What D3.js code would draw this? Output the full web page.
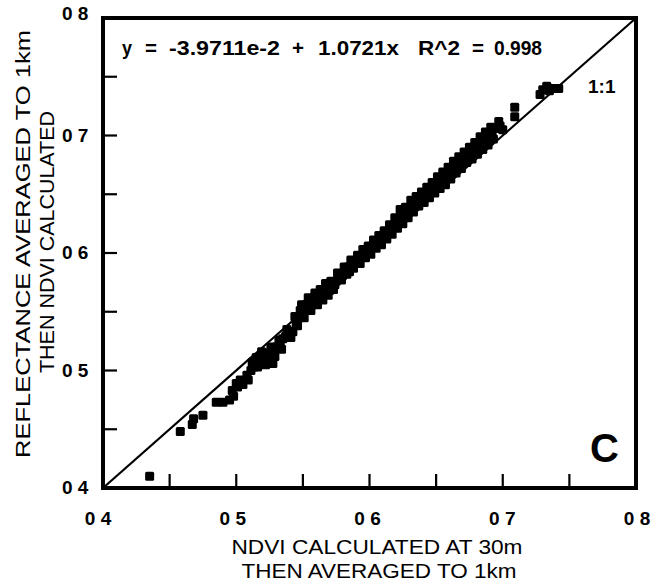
<!DOCTYPE html>
<html><head><meta charset="utf-8">
<script src="https://cdn.jsdelivr.net/npm/d3@7"></script>
<style>body{margin:0;background:#fff}svg{display:block}text{font-family:"Liberation Sans",Arial,sans-serif;fill:#000}</style>
</head><body><svg id="c" width="654" height="584"></svg>
<script>
const xTicks=[0.4,0.5,0.6,0.7,0.8];
const yTicks=[0.4,0.5,0.6,0.7,0.8];
const xTickLabels=["0 4","0 5","0 6","0 7","0 8"];
const yTickLabels=["0 4","0 5","0 6","0 7","0 8"];
const minorTicks=[0.45,0.5,0.55,0.6,0.65,0.7,0.75];
const ndvi30=[0.435,0.458,0.467,0.468,0.475,0.485,0.490,0.495,0.497,0.500,0.503,0.508,0.511,0.513,0.515,0.518,0.520,0.523,0.525,0.5275,0.528,0.530,0.533,0.535,0.537,0.540,0.5425,0.545,0.547,0.548,0.550,0.552,0.553,0.555,0.557,0.558,0.560,0.562,0.564,0.566,0.568,0.570,0.572,0.573,0.575,0.577,0.578,0.580,0.582,0.584,0.585,0.587,0.590,0.592,0.594,0.596,0.598,0.600,0.602,0.604,0.606,0.608,0.610,0.612,0.614,0.616,0.618,0.620,0.622,0.624,0.626,0.628,0.630,0.632,0.634,0.636,0.638,0.640,0.642,0.644,0.646,0.648,0.650,0.652,0.654,0.656,0.658,0.660,0.662,0.664,0.666,0.668,0.670,0.672,0.674,0.676,0.678,0.680,0.682,0.684,0.686,0.688,0.690,0.692,0.695,0.698,0.709,0.709,0.728,0.730,0.733,0.735,0.738,0.742,
0.498,0.501,0.505,0.509,0.512,0.516,0.519,0.522,0.526,0.529,0.532,0.534,0.538,0.541,0.544,0.546,0.549,0.551,0.554,0.556,0.559,0.561,0.563,0.565,0.567,0.569,0.571,0.574,0.576,0.579,0.581,0.583,0.586,0.588,0.591,0.593,0.595,0.597,0.599,0.601,0.603,0.605,0.607,0.609,0.611,0.613,0.615,0.617,0.619,0.621,0.623,0.625,0.627,0.629,0.631,0.633,0.635,0.637,0.639,0.641,0.643,0.645,0.647,0.649,0.651,0.653,0.655,0.657,0.659,0.661,0.663,0.665,0.667,0.669,0.671,0.673,0.675,0.677,0.679,0.681,0.683,0.685,0.687,0.689,0.691,0.693,0.697,0.700];
const ndvi1km=[0.410,0.448,0.454,0.459,0.462,0.473,0.473,0.475,0.483,0.489,0.492,0.496,0.500,0.503,0.511,0.507,0.512,0.510,0.515,0.506,0.518,0.520,0.523,0.527,0.529,0.533,0.533,0.540,0.545,0.551,0.548,0.556,0.552,0.557,0.556,0.561,0.560,0.563,0.566,0.565,0.569,0.568,0.572,0.569,0.576,0.578,0.581,0.581,0.585,0.588,0.584,0.590,0.592,0.595,0.597,0.600,0.601,0.602,0.606,0.607,0.610,0.611,0.614,0.617,0.618,0.621,0.623,0.626,0.626,0.632,0.630,0.635,0.637,0.641,0.640,0.643,0.645,0.647,0.649,0.651,0.654,0.655,0.658,0.660,0.661,0.665,0.664,0.668,0.671,0.673,0.676,0.674,0.679,0.681,0.684,0.683,0.688,0.689,0.693,0.692,0.697,0.699,0.702,0.700,0.706,0.708,0.716,0.724,0.735,0.739,0.742,0.738,0.740,0.740,
0.478,0.486,0.488,0.492,0.507,0.503,0.516,0.505,0.520,0.512,0.526,0.518,0.535,0.528,0.546,0.538,0.556,0.545,0.562,0.551,0.566,0.556,0.569,0.560,0.574,0.564,0.576,0.573,0.583,0.577,0.588,0.582,0.594,0.587,0.598,0.591,0.603,0.596,0.606,0.599,0.611,0.604,0.615,0.607,0.619,0.612,0.624,0.616,0.630,0.621,0.637,0.625,0.639,0.630,0.645,0.635,0.648,0.640,0.652,0.643,0.656,0.647,0.660,0.651,0.665,0.655,0.669,0.658,0.673,0.663,0.678,0.668,0.682,0.672,0.686,0.677,0.690,0.680,0.694,0.684,0.699,0.688,0.703,0.692,0.707,0.697,0.712,0.705];
const eqTokens=["y","=","-3.9711e-2","+","1.0721x","R^2","=","0.998"];

const svg=d3.select("#c");
const L=103,R=636,T=18,B=488;
const x=d3.scaleLinear().domain([0.4,0.8]).range([L,R]);
const y=d3.scaleLinear().domain([0.4,0.8]).range([B,T]);
const g=svg.append("g");

g.append("line").attr("x1",x(0.4)).attr("y1",y(0.4)).attr("x2",x(0.8)).attr("y2",y(0.8))
 .attr("stroke","#000").attr("stroke-width",2.2);

const S=9;
g.selectAll("rect.pt").data(ndvi30.map((v,i)=>[v,ndvi1km[i]])).join("rect")
 .attr("class","pt").attr("x",d=>x(d[0])-S/2).attr("y",d=>y(d[1])-S/2)
 .attr("width",S).attr("height",S).attr("rx",1.5).attr("fill","#000");

const tl=14;
g.selectAll("line.xt").data(minorTicks).join("line").attr("class","xt")
 .attr("x1",d=>x(d)).attr("x2",d=>x(d)).attr("y1",B).attr("y2",B-tl).attr("stroke","#000").attr("stroke-width",2.2);
g.selectAll("line.yt").data(minorTicks).join("line").attr("class","yt")
 .attr("y1",d=>y(d)).attr("y2",d=>y(d)).attr("x1",L).attr("x2",L+tl).attr("stroke","#000").attr("stroke-width",2.2);

g.append("rect").attr("x",L).attr("y",T).attr("width",R-L).attr("height",B-T)
 .attr("fill","none").attr("stroke","#000").attr("stroke-width",4);

g.selectAll("text.xl").data(xTicks).join("text").attr("class","xl")
 .attr("x",(d,i)=>x(d)-5+1.5*i).attr("y",525).attr("text-anchor","middle")
 .style("font-size","19px").style("font-weight","bold").text((d,i)=>xTickLabels[i]);
g.selectAll("text.yl").data(yTicks).join("text").attr("class","yl")
 .attr("x",62).attr("y",(d,i)=>y(d)+(i===4?2:6))
 .style("font-size","19px").style("font-weight","bold").text((d,i)=>yTickLabels[i]);

function title(tx,ty,rot,len,s){
  g.append("text").attr("transform",`translate(${tx},${ty}) rotate(${rot})`).attr("text-anchor","middle")
   .attr("textLength",len).attr("lengthAdjust","spacingAndGlyphs")
   .style("font-size","20px").text(s);
}
title(377,554,0,291,"NDVI CALCULATED AT 30m");
title(379,578,0,275,"THEN AVERAGED TO 1km");
title(30,244,-90,428,"REFLECTANCE AVERAGED TO 1km");
title(54,242,-90,262,"THEN NDVI CALCULATED");

const eqX=[122,145,169,292,318,418,472,494];
const eqW=[10,12,111,12,81,42,12,48];
const eq=g.append("text").attr("y",55).style("font-size","20px").style("font-weight","bold");
eq.selectAll("tspan").data(eqTokens).join("tspan").attr("x",(d,i)=>eqX[i])
 .attr("textLength",(d,i)=>eqW[i]).attr("lengthAdjust","spacingAndGlyphs").text(d=>d);

g.append("text").attr("x",588).attr("y",93).style("font-size","19px").style("font-weight","bold").text("1:1");
g.append("text").attr("x",590).attr("y",462).style("font-size","40px").style("font-weight","bold").text("C");
</script></body></html>
